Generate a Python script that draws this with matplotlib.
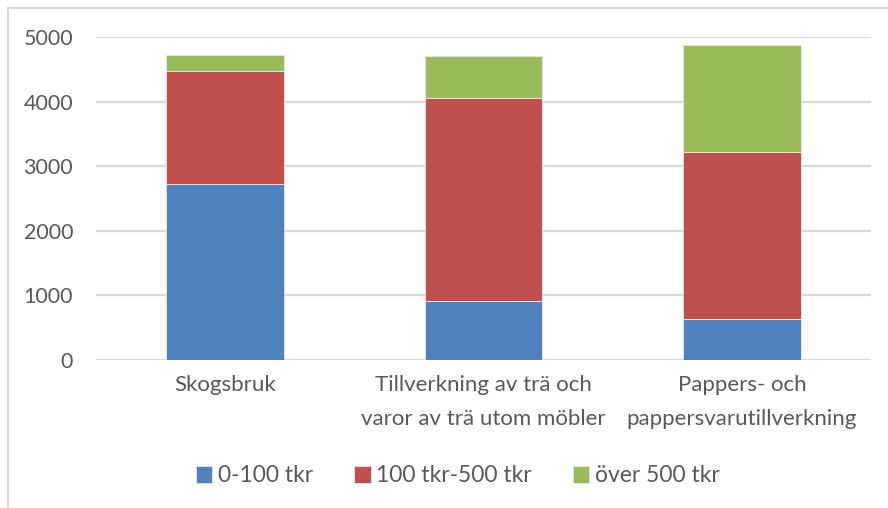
import matplotlib.pyplot as plt
import numpy as np
from matplotlib.lines import Line2D

categories = ["Skogsbruk",
              "Tillverkning av trä och\nvaror av trä utom möbler",
              "Pappers- och\npappersvarutillverkning"]
series_names = ["0-100 tkr", "100 tkr-500 tkr", "över 500 tkr"]
low = [2720, 910, 630]
mid = [1760, 3150, 2590]
high = [240, 650, 1660]
yticks = [0, 1000, 2000, 3000, 4000, 5000]

colors = ["#4f81bd", "#c0504d", "#9bbb59"]
text_col = "#595959"

plt.rcParams["font.family"] = ["Lato", "DejaVu Sans"]

fig = plt.figure(figsize=(8.88, 5.08), dpi=100)
ax = fig.add_axes([96 / 888, 1 - 360 / 508, 775 / 888, 323 / 508])

x = np.arange(len(categories))
bottom = np.zeros(len(categories))
for vals, name, c in zip([low, mid, high], series_names, colors):
    ax.bar(x, vals, 0.455, bottom=bottom, color=c, label=name,
           edgecolor="#e8e8e8", linewidth=0.6, zorder=3)
    bottom += np.array(vals)

ax.set_xlim(-0.5, len(categories) - 0.5)
ax.set_ylim(0, 5000)
ax.set_yticks(yticks)
ax.set_xticks(x)
ax.set_xticklabels(categories, linespacing=1.85)
ax.yaxis.grid(True, color="#d9d9d9", linewidth=1.6, zorder=0)
for s in ax.spines.values():
    s.set_visible(False)
ax.tick_params(axis="y", length=0, pad=16.5, labelsize=15.5, labelcolor=text_col)
ax.tick_params(axis="x", length=0, pad=11, labelsize=16, labelcolor=text_col)

handles, labels = ax.get_legend_handles_labels()
leg = fig.legend(handles, labels, loc="center", bbox_to_anchor=(458 / 888, 1 - 476 / 508),
                 ncol=3, frameon=False, fontsize=16.5, handlelength=0.7,
                 handleheight=0.7, handletextpad=0.25, columnspacing=1.8)
for t in leg.get_texts():
    t.set_color(text_col)

# chart area border (left and top only visible)
fig.add_artist(Line2D([7.5 / 888, 7.5 / 888], [0, 1 - 8 / 508], color="#d9d9d9", linewidth=1.5))
fig.add_artist(Line2D([7.5 / 888, 1], [1 - 8 / 508, 1 - 8 / 508], color="#d9d9d9", linewidth=1.5))

fig.savefig("out.png", dpi=100)
